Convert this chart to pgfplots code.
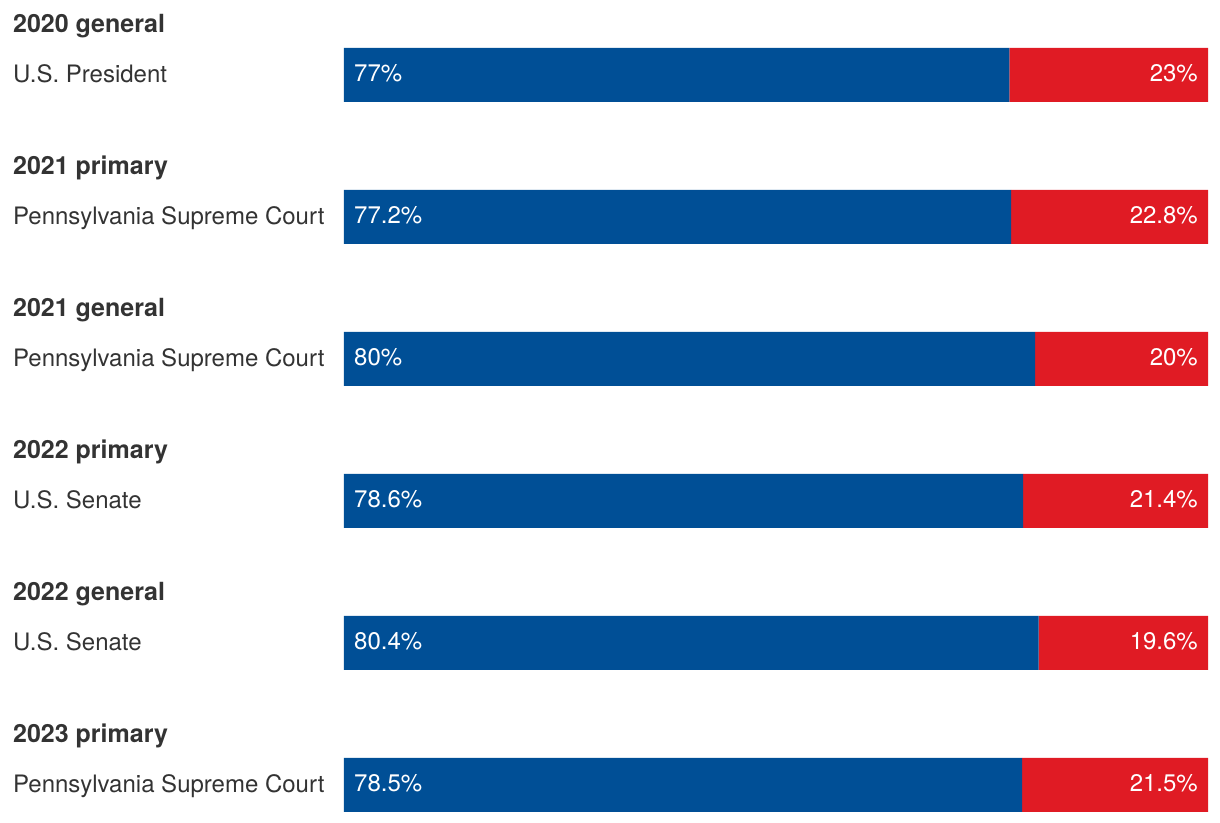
\documentclass[border=0pt]{standalone}
\usepackage{pgfplots}
\pgfplotsset{compat=1.18}
\usepackage{pgfplotstable}
\usepackage{fontspec}
\setmainfont{TeX Gyre Heros}
\definecolor{dblue}{HTML}{004F96}
\definecolor{rred}{HTML}{E01B24}
\definecolor{txt}{HTML}{333333}

\pgfplotstableread{
row dem rep
0 77 23
1 77.2 22.8
2 80 20
3 78.6 21.4
4 80.4 19.6
5 78.5 21.5
}\data

\newcommand{\rowlabels}[3]{%
  \node[anchor=base west, font=\fontsize{25}{29}\selectfont\bfseries, text=txt, inner sep=0pt] at ([xshift=-331pt,yshift=42pt]axis cs:0,#1) {#2};
  \node[anchor=base west, font=\fontsize{24}{28}\selectfont, text=txt, inner sep=0pt] at ([xshift=-331pt,yshift=-8pt]axis cs:0,#1) {#3};
  \coordinate (L#1) at (axis cs:0,#1);
  \coordinate (R#1) at (axis cs:100,#1);
}
\newcommand{\pct}[3]{%
  \node[anchor=base west, font=\fontsize{24}{28}\selectfont, text=white, inner sep=0pt] at ([xshift=10pt,yshift=-7pt]L#1) {#2};
  \node[anchor=base east, font=\fontsize{24}{28}\selectfont, text=white, inner sep=0pt] at ([xshift=-10pt,yshift=-7pt]R#1) {#3};
}

\begin{document}
\begin{tikzpicture}
\begin{axis}[
  scale only axis, width=1220pt, height=822pt,
  xmin=-39.81, xmax=101.39, ymin=-0.528, ymax=5.261,
  y dir=reverse, xbar stacked, bar width=54pt,
  axis lines=none, ticks=none, clip=false]
\addplot[fill=dblue, draw=none] table[x=dem,y=row]{\data};
\addplot[fill=rred, draw=none] table[x=rep,y=row]{\data};
\path (rel axis cs:0,0) rectangle (rel axis cs:1,1);
\rowlabels{0}{2020 general}{U.S. President}
\rowlabels{1}{2021 primary}{Pennsylvania Supreme Court}
\rowlabels{2}{2021 general}{Pennsylvania Supreme Court}
\rowlabels{3}{2022 primary}{U.S. Senate}
\rowlabels{4}{2022 general}{U.S. Senate}
\rowlabels{5}{2023 primary}{Pennsylvania Supreme Court}
\end{axis}
\pct{0}{77\%}{23\%}
\pct{1}{77.2\%}{22.8\%}
\pct{2}{80\%}{20\%}
\pct{3}{78.6\%}{21.4\%}
\pct{4}{80.4\%}{19.6\%}
\pct{5}{78.5\%}{21.5\%}
\end{tikzpicture}
\end{document}
